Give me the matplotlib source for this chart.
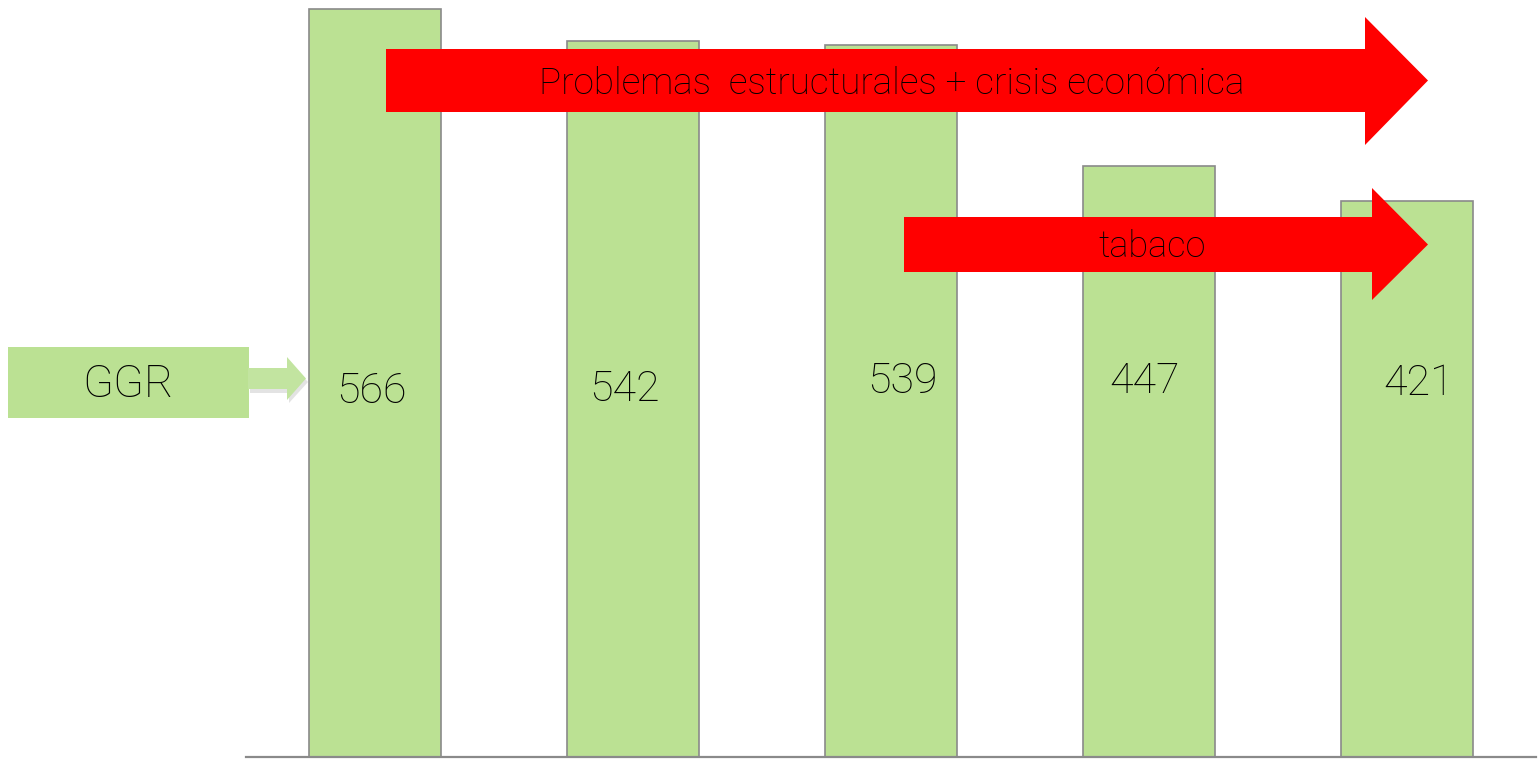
import matplotlib.pyplot as plt
from matplotlib.patches import Polygon, Rectangle
import numpy as np

# values
categories = ['1', '2', '3', '4', '5']
values = [566, 542, 539, 447, 421]
labels = ['566', '542', '539', '447', '421']
# small nudges of the labels (pixels), as in the original slide
label_dx = [-4, -9, 11, -4, 12]
label_dy = [-6, -4, 4, 4, 2]

bar_green = '#bbe193'
edge_grey = '#8a8a8a'
arrow_red = '#ff0000'
font = dict(family=['Roboto', 'DejaVu Sans'], weight='light', color='black')

W, H = 1538, 765
fig = plt.figure(figsize=(W / 100, H / 100), dpi=100)

# main bar axes, placed so the baseline sits at y=757 px
ax = fig.add_axes([246 / W, 8 / H, 1290 / W, 748 / H])
x = np.arange(len(categories))
bars = ax.bar(x, values, width=0.512, color=bar_green, edgecolor=edge_grey,
              linewidth=1.2, clip_on=False, zorder=2)
ax.set_xlim(-0.5, len(categories) - 0.5)
ax.set_ylim(0, max(values))
for s in ['top', 'left', 'right']:
    ax.spines[s].set_visible(False)
ax.spines['bottom'].set_color(edge_grey)
ax.spines['bottom'].set_linewidth(1.6)
ax.set_xticks([])
ax.set_yticks([])
ax.patch.set_alpha(0)

for i, lab in enumerate(labels):
    ax.annotate(lab, (x[i], 281), xytext=(label_dx[i] * 0.72, label_dy[i] * 0.72),
                textcoords='offset points', ha='center', va='center',
                fontsize=31, zorder=5, **font)

# overlay in pixel coordinates for the slide annotations
ov = fig.add_axes([0, 0, 1, 1])
ov.set_xlim(0, W)
ov.set_ylim(H, 0)
ov.axis('off')
ov.patch.set_alpha(0)


def block_arrow(x0, x_head, x_tip, y0, y1, hy0, hy1, color, z=3):
    ym = (y0 + y1) / 2
    pts = [(x0, y0), (x_head, y0), (x_head, hy0), (x_tip, ym),
           (x_head, hy1), (x_head, y1), (x0, y1)]
    ov.add_patch(Polygon(pts, closed=True, facecolor=color, edgecolor='none', zorder=z))


# big arrow: structural problems + crisis
block_arrow(386, 1365, 1428, 49, 112, 17, 145, arrow_red)
ov.text(892, 84, 'Problemas  estructurales + crisis económica', ha='center',
        va='center', fontsize=26.6, zorder=6, **font)

# smaller arrow: tobacco
block_arrow(904, 1372, 1428, 217, 272, 188, 300, arrow_red)
ov.text(1152, 247, 'tabaco', ha='center', va='center', fontsize=26, zorder=6, **font)

# GGR box with its little arrow
ov.add_patch(Rectangle((8, 347), 241, 71, facecolor=bar_green, edgecolor='none', zorder=3))
ov.text(128, 385, 'GGR', ha='center', va='center', fontsize=32.5, zorder=6, **font)

shadow = [(250, 371), (289, 371), (289, 361), (308, 382), (289, 403), (289, 393), (250, 393)]
ov.add_patch(Polygon(shadow, closed=True, facecolor='#c8c8c8', edgecolor='none',
                     alpha=0.5, zorder=3))
small = [(248, 368), (287, 368), (287, 357), (306, 378.5), (287, 400), (287, 389), (248, 389)]
ov.add_patch(Polygon(small, closed=True, facecolor='#c2e4a0', edgecolor='none', zorder=4))

fig.savefig('out.png', dpi=100)
